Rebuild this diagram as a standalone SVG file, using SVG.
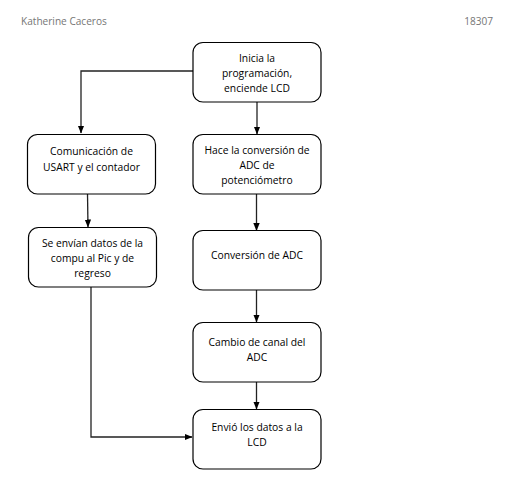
<svg xmlns="http://www.w3.org/2000/svg" width="513" height="500" viewBox="0 0 513 500">
<defs>
<marker id="arr" viewBox="0 0 8 8" refX="7.5" refY="4" markerWidth="8" markerHeight="8" markerUnits="userSpaceOnUse" orient="auto">
<path d="M0,0.8 L8,4 L0,7.2 Z" fill="#000"/>
</marker>
<style>
.box{fill:#fff;stroke:#000;stroke-width:1.2}
.t{font-family:"Open Sans","Noto Sans",sans-serif;font-size:10.3px;fill:#000;text-anchor:middle}
.h{font-family:"Open Sans","Noto Sans",sans-serif;font-size:10.1px;fill:#767676}
.c{fill:none;stroke:#222;stroke-width:1.3}
</style>
</defs>
<rect width="513" height="500" fill="#fff"/>
<text class="h" x="21" y="25">Katherine Caceros</text>
<text class="h" x="493" y="25" text-anchor="end">18307</text>
<g id="connectors">
<path class="c" d="M193,71 H81 V133" marker-end="url(#arr)"/>
<path class="c" d="M257,102 V134" marker-end="url(#arr)"/>
<path class="c" d="M87.5,194 L88,227" marker-end="url(#arr)"/>
<path class="c" d="M256.5,194 V230.5" marker-end="url(#arr)"/>
<path class="c" d="M256.5,290 V322" marker-end="url(#arr)"/>
<path class="c" d="M256.5,377 V409" marker-end="url(#arr)"/>
<path class="c" d="M91,287 V437 H192" marker-end="url(#arr)"/>
</g>
<g id="n1"><rect class="box" x="193" y="42.5" width="128" height="59.5" rx="10"/>
<text class="t" x="257" y="62">Inicia la</text>
<text class="t" x="257" y="77">programación,</text>
<text class="t" x="257" y="92">enciende LCD</text></g>
<g id="n2"><rect class="box" x="27.5" y="134.5" width="128" height="59.5" rx="10"/>
<text class="t" x="91.5" y="155">Comunicación de</text>
<text class="t" x="91.5" y="171">USART y el contador</text></g>
<g id="n3"><rect class="box" x="193" y="134.5" width="128" height="59.5" rx="10"/>
<text class="t" x="257" y="154">Hace la conversión de</text>
<text class="t" x="257" y="169">ADC de</text>
<text class="t" x="257" y="184">potenciómetro</text></g>
<g id="n4"><rect class="box" x="28.5" y="227.5" width="128" height="59.5" rx="10"/>
<text class="t" x="92.5" y="247">Se envían datos de la</text>
<text class="t" x="92.5" y="262">compu al Pic y de</text>
<text class="t" x="92.5" y="277">regreso</text></g>
<g id="n5"><rect class="box" x="193" y="230.5" width="128" height="59.5" rx="10"/>
<text class="t" x="257" y="259">Conversión de ADC</text></g>
<g id="n6"><rect class="box" x="193" y="322.5" width="128" height="59.5" rx="10"/>
<text class="t" x="257" y="345.5">Cambio de canal del</text>
<text class="t" x="257" y="360.5">ADC</text></g>
<g id="n7"><rect class="box" x="193" y="409.5" width="128" height="59.5" rx="10"/>
<text class="t" x="257" y="430.5">Envió los datos a la</text>
<text class="t" x="257" y="445.5">LCD</text></g>
</svg>
